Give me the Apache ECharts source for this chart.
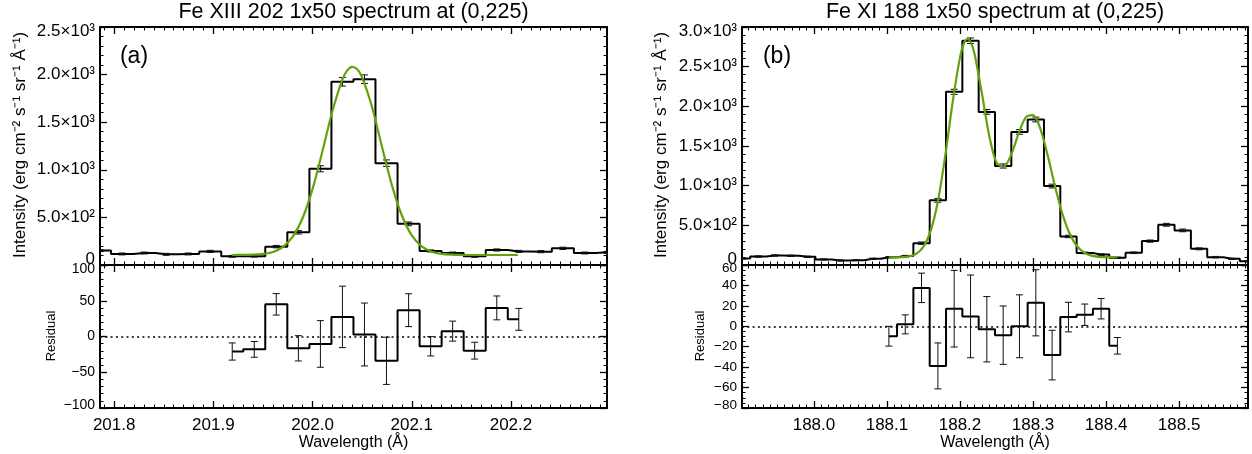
<!DOCTYPE html>
<html>
<head>
<meta charset="utf-8">
<title>EIS line profiles</title>
<script src="https://cdn.jsdelivr.net/npm/echarts@6/dist/echarts.min.js"></script>
<style>
  html, body { margin: 0; padding: 0; background: #fff; }
  #chart { width: 1252px; height: 454px; }
</style>
</head>
<body>
<div id="chart"></div>
<script>
// ---------- Panel (a): Fe XIII 202 ----------
const waveA = [201.7857, 201.8079, 201.8301, 201.8523, 201.8746, 201.8968,
  201.9190, 201.9412, 201.9634, 201.9857, 202.0079, 202.0301, 202.0523, 202.0745,
  202.0968, 202.1190, 202.1412, 202.1634, 202.1857, 202.2079, 202.2301, 202.2523,
  202.2745, 202.2968];
const intenA = [151, 116, 126, 112, 116, 143,
  91, 93, 193, 343, 1011, 1924, 1952, 1070,
  432, 148, 126, 91, 158, 143, 140, 175, 126, 133];
const errA = [10, 10, 10, 10, 10, 11,
  10, 10, 13, 18, 32, 45, 45, 34,
  20, 11, 10, 10, 11, 11, 11, 12, 10, 10];
const fitWaveA = [201.919, 201.93, 201.94, 201.95, 201.96, 201.97, 201.98, 201.99,
  202.00, 202.01, 202.02, 202.03, 202.035, 202.04, 202.045, 202.05, 202.06, 202.07,
  202.08, 202.09, 202.10, 202.11, 202.12, 202.13, 202.14, 202.15, 202.17, 202.19, 202.207];
const fitA = [105, 106, 108, 116, 137, 188, 297, 494,
  799, 1198, 1617, 1948, 2044, 2082, 2056, 1971, 1657, 1240,
  836, 520, 311, 196, 140, 117, 109, 106, 105, 105, 105];
const resWaveA = [201.9190, 201.9412, 201.9634, 201.9857, 202.0079, 202.0301, 202.0523,
  202.0745, 202.0968, 202.1190, 202.1412, 202.1634, 202.1857, 202.2079];
const residA = [-21, -18, 45, -16.5, -10.4, 27.4, 2.8, -34, 36.8, -13.7, 7.5, -19.8, 40, 24];
const residErrA = [12, 11, 15, 17.7, 32.6, 43, 44, 33, 23, 13.5, 14, 11.8, 16.7, 15.3];

// ---------- Panel (b): Fe XI 188 ----------
const waveB = [187.9015, 187.9238, 187.9462, 187.9685, 187.9909, 188.0132, 188.0356,
  188.0579, 188.0803, 188.1026, 188.1250, 188.1473, 188.1697, 188.1920, 188.2144,
  188.2367, 188.2591, 188.2814, 188.3038, 188.3261, 188.3485, 188.3708, 188.3932,
  188.4155, 188.4379, 188.4602, 188.4826, 188.5049, 188.5273, 188.5496, 188.5720, 188.5943];
const intenB = [81, 107, 120, 116, 103, 70, 57, 61, 78,
  98, 112, 275, 815, 2183, 2827, 1930, 1248, 1677, 1834, 995, 360, 152, 131,
  91, 154, 301, 507, 436, 204, 99, 78, 48];
const errB = [8, 9, 9, 9, 9, 7, 7, 7, 8,
  8, 9, 15, 24, 32, 35, 30, 26, 29, 30, 24, 15, 10, 10,
  8, 10, 14, 18, 17, 12, 9, 8, 7];
const fitWaveB = [188.1026, 188.11, 188.12, 188.13, 188.14, 188.15, 188.16, 188.17,
  188.18, 188.19, 188.20, 188.205, 188.21, 188.215, 188.22, 188.23, 188.24, 188.25,
  188.26, 188.27, 188.28, 188.29, 188.30, 188.31, 188.32, 188.33, 188.34, 188.35,
  188.36, 188.37, 188.38, 188.39, 188.40, 188.4155];
const fitB = [95, 96, 98, 108, 141, 231, 436, 817,
  1390, 2058, 2620, 2786, 2849, 2803, 2657, 2161, 1630, 1290,
  1240, 1390, 1650, 1860, 1890, 1715, 1385, 995, 650, 397,
  240, 157, 118, 103, 99, 99];
const resWaveB = [188.1026, 188.1250, 188.1473, 188.1697, 188.1920, 188.2144, 188.2367,
  188.2591, 188.2814, 188.3038, 188.3261, 188.3485, 188.3708, 188.3932, 188.4155];
const residB = [-9.7, 1.9, 37.6, -38.8, 17.2, 9.7, -2.9, -8.7, 0, 23, -28.2, 9, 11.3, 17.2, -19.1];
const residErrB = [9.7, 9.3, 14.4, 22.5, 37.5, 40.5, 32, 28.6, 30.8, 32.4, 24.3, 14.5, 10.5, 10, 8.1];

// ---------- Axis ranges and tick labels ----------
const xRangeA = [201.7857, 202.2968];
const xRangeB = [187.9015, 188.5943];
const xTicksA = [201.8, 201.9, 202.0, 202.1, 202.2];
const xTicksB = [188.0, 188.1, 188.2, 188.3, 188.4, 188.5];

const yTicksTopA = [0, 500, 1000, 1500, 2000, 2500];
const yLabelsTopA = ['0', '5.0×10²', '1.0×10³', '1.5×10³', '2.0×10³', '2.5×10³'];
const yTicksTopB = [0, 500, 1000, 1500, 2000, 2500, 3000];
const yLabelsTopB = ['0', '5.0×10²', '1.0×10³', '1.5×10³', '2.0×10³', '2.5×10³', '3.0×10³'];
const yTicksResA = [-100, -50, 0, 50, 100];
const yLabelsResA = ['−100', '−50', '0', '50', '100'];
const yTicksResB = [-80, -60, -40, -20, 0, 20, 40, 60];
const yLabelsResB = ['−80', '−60', '−40', '−20', '0', '20', '40', '60'];

const titleA = 'Fe XIII 202 1x50 spectrum at (0,225)';
const titleB = 'Fe XI 188 1x50 spectrum at (0,225)';
const yTitle = 'Intensity (erg cm⁻² s⁻¹ sr⁻¹ Å⁻¹)';
const resTitle = 'Residual';
const xTitle = 'Wavelength (Å)';

const FONT = '"Liberation Sans", Arial, Helvetica, sans-serif';
const INK = '#000';
const GREEN = '#62a30c';

// minor x ticks every 0.01 Å inside a range
function minorTicks(range) {
  const out = [];
  let t = Math.ceil(range[0] * 100 - 1e-6);
  for (; t <= Math.floor(range[1] * 100 + 1e-6); t++) out.push(+(t / 100).toFixed(2));
  return out;
}

const grids = [
  { left: 100, top: 27, width: 507, height: 238 },   // (a) spectrum
  { left: 100, top: 265, width: 507, height: 143 },  // (a) residual
  { left: 742, top: 27, width: 506, height: 238 },   // (b) spectrum
  { left: 742, top: 265, width: 506, height: 143 }   // (b) residual
];

const panels = [
  { range: xRangeA, ticks: xTicksA, showX: false },
  { range: xRangeA, ticks: xTicksA, showX: true },
  { range: xRangeB, ticks: xTicksB, showX: false },
  { range: xRangeB, ticks: xTicksB, showX: true }
];

// padTop / padBottom nudge the extreme labels inward, off the panel corners
const yCfg = [
  { min: 0, max: 2500, interval: 500, minor: 5, ticks: yTicksTopA, labels: yLabelsTopA, size: 17, padTop: 8, padBottom: 12 },
  { min: -100, max: 100, interval: 50, minor: 5, ticks: yTicksResA, labels: yLabelsResA, size: 14, padTop: 8, padBottom: 6 },
  { min: 0, max: 3000, interval: 500, minor: 5, ticks: yTicksTopB, labels: yLabelsTopB, size: 17, padTop: 9, padBottom: 12 },
  { min: -80, max: 60, interval: 20, minor: 4, ticks: yTicksResB, labels: yLabelsResB, size: 13.5, padTop: 6, padBottom: 6 }
];

const axisLine = { show: true, onZero: false, lineStyle: { color: INK, width: 2 } };

const xAxes = [];
const yAxes = [];
panels.forEach((p, gi) => {
  const minors = minorTicks(p.range);
  ['bottom', 'top'].forEach(pos => {
    // major ticks (and labels on the bottom of residual panels)
    xAxes.push({
      type: 'value', gridIndex: gi, position: pos, min: p.range[0], max: p.range[1],
      axisLine: axisLine,
      axisTick: { show: true, inside: true, length: 7, customValues: p.ticks,
        lineStyle: { color: INK, width: 1.3 } },
      axisLabel: { show: pos === 'bottom' && p.showX, customValues: p.ticks, margin: 9,
        hideOverlap: false,
        color: INK, fontFamily: FONT, fontSize: 17, formatter: v => v.toFixed(1) },
      splitLine: { show: false }, minorTick: { show: false }
    });
    // minor ticks
    xAxes.push({
      type: 'value', gridIndex: gi, position: pos, min: p.range[0], max: p.range[1],
      axisLine: { show: false, onZero: false },
      axisTick: { show: true, inside: true, length: 3.5, customValues: minors,
        lineStyle: { color: INK, width: 1 } },
      axisLabel: { show: false },
      splitLine: { show: false }
    });
  });
  const c = yCfg[gi];
  const lab = { fontSize: c.size, fontFamily: FONT, color: INK };
  ['left', 'right'].forEach(pos => {
    yAxes.push({
      type: 'value', gridIndex: gi, position: pos,
      min: c.min, max: c.max, interval: c.interval,
      axisLine: axisLine,
      axisTick: { show: true, inside: true, length: 7, lineStyle: { color: INK, width: 1.3 } },
      minorTick: { show: true, splitNumber: c.minor, length: 3.5, lineStyle: { color: INK, width: 1 } },
      axisLabel: {
        show: pos === 'left', margin: 5, color: INK, fontFamily: FONT, fontSize: c.size,
        showMinLabel: true, showMaxLabel: true, hideOverlap: false,
        rich: {
          n: lab,
          hi: Object.assign({ padding: [c.padTop, 0, 0, 0] }, lab),
          lo: Object.assign({ padding: [0, 0, c.padBottom, 0] }, lab)
        },
        formatter: v => {
          const i = c.ticks.indexOf(v);
          if (i < 0) return '';
          const key = v === c.max ? 'hi' : (v === c.min ? 'lo' : 'n');
          return '{' + key + '|' + c.labels[i] + '}';
        }
      },
      splitLine: { show: false }
    });
  });
});

function errorBars(x, val, err) {
  return x.map((w, i) => [w, val[i] - err[i], val[i] + err[i]]);
}

function renderErr(params, api) {
  const x = api.value(0);
  const lo = api.coord([x, api.value(1)]);
  const hi = api.coord([x, api.value(2)]);
  const hw = 3.5;
  const st = { stroke: '#111', lineWidth: 1 };
  return {
    type: 'group',
    children: [
      { type: 'line', shape: { x1: lo[0], y1: lo[1], x2: hi[0], y2: hi[1] }, style: st },
      { type: 'line', shape: { x1: lo[0] - hw, y1: lo[1], x2: lo[0] + hw, y2: lo[1] }, style: st },
      { type: 'line', shape: { x1: hi[0] - hw, y1: hi[1], x2: hi[0] + hw, y2: hi[1] }, style: st }
    ]
  };
}

const pairs = (x, y) => x.map((w, i) => [w, y[i]]);

function histSeries(gi, x, y) {
  return {
    type: 'line', xAxisIndex: gi * 4, yAxisIndex: gi * 2, data: pairs(x, y),
    step: 'middle', symbol: 'none', clip: true, z: 2,
    lineStyle: { color: INK, width: 2 }
  };
}
function errSeries(gi, x, y, e) {
  return {
    type: 'custom', xAxisIndex: gi * 4, yAxisIndex: gi * 2, data: errorBars(x, y, e),
    renderItem: renderErr, clip: true, z: 3
  };
}
function fitSeries(gi, x, y) {
  return {
    type: 'line', xAxisIndex: gi * 4, yAxisIndex: gi * 2, data: pairs(x, y),
    smooth: 0.3, symbol: 'none', z: 4,
    lineStyle: { color: GREEN, width: 2.2 }
  };
}
const zeroLine = {
  silent: true, symbol: 'none', label: { show: false },
  lineStyle: { type: [2, 3.3], color: INK, width: 1.6 },
  data: [{ yAxis: 0 }]
};

const series = [
  histSeries(0, waveA, intenA),
  errSeries(0, waveA, intenA, errA),
  fitSeries(0, fitWaveA, fitA),
  Object.assign(histSeries(1, resWaveA, residA), { markLine: zeroLine }),
  errSeries(1, resWaveA, residA, residErrA),
  histSeries(2, waveB, intenB),
  errSeries(2, waveB, intenB, errB),
  fitSeries(2, fitWaveB, fitB),
  Object.assign(histSeries(3, resWaveB, residB), { markLine: zeroLine }),
  errSeries(3, resWaveB, residB, residErrB)
];

function text(str, x, y, size, rot) {
  return {
    type: 'text', x: x, y: y, rotation: rot || 0, silent: true,
    style: { text: str, x: 0, y: 0, fill: INK, font: size + 'px ' + FONT,
      textAlign: 'center', textVerticalAlign: 'middle', align: 'center', verticalAlign: 'middle' }
  };
}

const graphics = [
  text(titleA, 353.5, 12, 21.5),
  text(titleB, 995, 12, 21.5),
  text('(a)', 134, 57, 23),
  text('(b)', 777, 57, 23),
  text(yTitle, 20, 145, 17, Math.PI / 2),
  text(yTitle, 661, 145, 17, Math.PI / 2),
  text(resTitle, 51, 336, 13, Math.PI / 2),
  text(resTitle, 700, 336, 13, Math.PI / 2),
  text(xTitle, 353.5, 443, 16),
  text(xTitle, 995, 443, 16)
];

const chart = echarts.init(document.getElementById('chart'), null, { renderer: 'canvas' });
chart.setOption({
  animation: false,
  backgroundColor: '#fff',
  grid: grids.map(g => Object.assign({ containLabel: false, outerBoundsMode: 'none' }, g)),
  xAxis: xAxes,
  yAxis: yAxes,
  series: series,
  graphic: { elements: graphics }
});
</script>
</body>
</html>
